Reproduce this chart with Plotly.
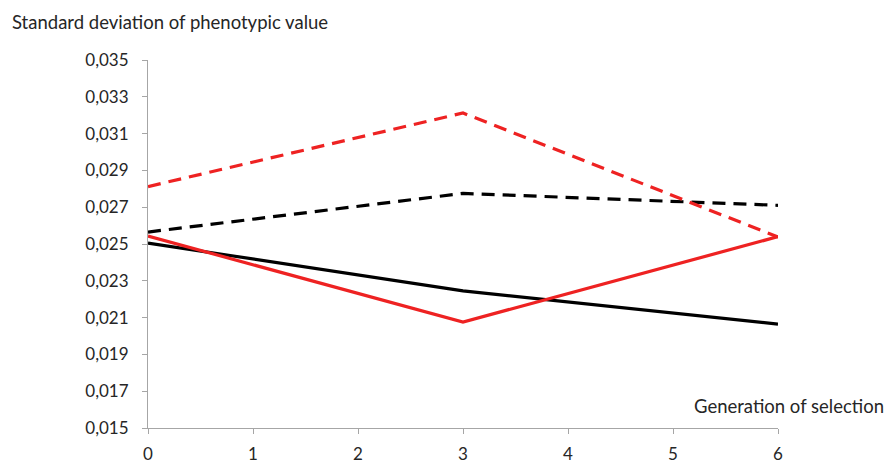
import plotly.graph_objects as go

generations = [0, 3, 6]
black_solid = [0.02505, 0.02245, 0.02065]
red_solid = [0.02543, 0.02076, 0.02540]
black_dashed = [0.02565, 0.02775, 0.02710]
red_dashed = [0.02812, 0.03212, 0.02538]

y_ticks = [0.015, 0.017, 0.019, 0.021, 0.023, 0.025, 0.027, 0.029, 0.031, 0.033, 0.035]
x_ticks = [0, 1, 2, 3, 4, 5, 6]

FONT = "Lato"
TXT = "#262626"

fig = go.Figure()
series = [
    (black_solid, "#000000", "solid"),
    (red_solid, "#EE2222", "solid"),
    (black_dashed, "#000000", "13px,8px"),
    (red_dashed, "#EE2222", "13px,8px"),
]
for ys, col, dash in series:
    fig.add_trace(go.Scatter(x=generations, y=ys, mode="lines",
                             line=dict(color=col, width=3.2, dash=dash),
                             showlegend=False, hoverinfo="skip"))

W, H = 876, 454
L, R, T, B = 140, 106, 52, 34
PW, PH = W - L - R, H - T - B

fig.update_layout(
    width=W, height=H,
    margin=dict(l=L, r=R, t=T, b=B, autoexpand=False),
    paper_bgcolor="white", plot_bgcolor="white",
    separators=",.",
    font=dict(family=FONT, size=17, color=TXT),
    xaxis=dict(range=[0, 6], tickvals=x_ticks, showgrid=False, zeroline=False,
               showline=True, linecolor="#a6a6a6", linewidth=1,
               ticks="outside", ticklen=5, tickcolor="#a6a6a6",
               ticklabelstandoff=6,
               tickfont=dict(family=FONT, size=17, color=TXT)),
    yaxis=dict(range=[0.015, 0.035], tickvals=y_ticks, tickformat=".3f",
               showgrid=False, zeroline=False,
               showline=True, linecolor="#a6a6a6", linewidth=1,
               ticks="outside", ticklen=5, tickcolor="#a6a6a6",
               ticklabelstandoff=10,
               tickfont=dict(family=FONT, size=17, color=TXT)),
    annotations=[
        dict(text="Standard deviation of phenotypic value", xref="paper", yref="paper",
             x=-(L - 2) / PW, y=1 + 38 / PH, xanchor="left", yanchor="middle",
             showarrow=False, font=dict(family=FONT, size=18.5, color=TXT)),
        dict(text="Generation of selection", xref="paper", yref="paper",
             x=1 + (R + 2) / PW, y=22 / PH, xanchor="right", yanchor="middle",
             showarrow=False, font=dict(family=FONT, size=18.5, color=TXT)),
    ],
)

fig.write_html("out.html")
